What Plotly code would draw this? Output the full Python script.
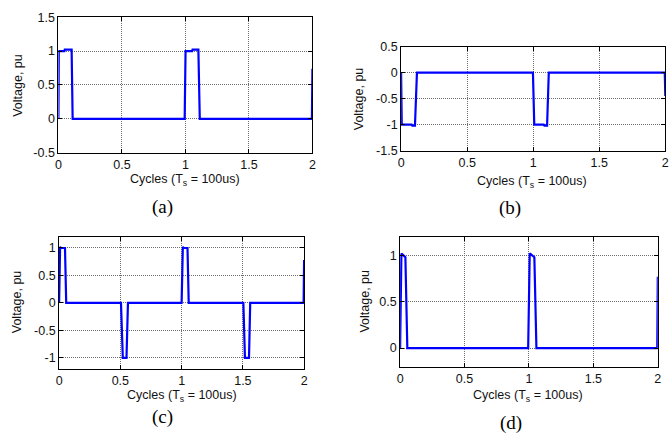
import plotly.graph_objects as go

# Output voltage waveforms over two switching cycles (Ts = 100 us)
cycles_a = [0, 0.003, 0.047, 0.05, 0.104, 0.112, 0.994, 1.001, 1.053, 1.056, 1.102, 1.113, 1.996, 2.0]
volts_a = [0, 1.0, 1.0, 1.02, 1.02, 0, 0, 1.0, 1.0, 1.02, 1.02, 0, 0, 0.74]

cycles_b = [0, 0.005, 0.08, 0.085, 0.105, 0.12, 0.998, 1.008, 1.08, 1.085, 1.105, 1.118, 1.996, 2.0]
volts_b = [0, -1.0, -1.0, -1.02, -1.02, 0, 0, -1.0, -1.0, -1.02, -1.02, 0, 0, -0.45]

cycles_c = [0, 0.008, 0.015, 0.048, 0.058, 0.505, 0.52, 0.55, 0.562, 1.0, 1.01, 1.018,
            1.048, 1.058, 1.504, 1.517, 1.55, 1.56, 1.996, 2.0]
volts_c = [0, 1.02, 1.0, 1.0, 0, 0, -1, -1, 0, 0, 1.02, 1.0, 1.0, 0, 0, -1, -1, 0, 0, 0.78]

cycles_d = [0, 0.01, 0.026, 0.041, 0.056, 0.994, 1.006, 1.024, 1.042, 1.058, 1.996, 2.0]
volts_d = [0, 1.02, 1.0, 0.98, 0, 0, 1.02, 1.0, 0.98, 0, 0, 0.77]

x_ticks = [0, 0.5, 1, 1.5, 2]
y_ticks_a = [-0.5, 0, 0.5, 1, 1.5]
y_ticks_b = [-1.5, -1, -0.5, 0, 0.5]
y_ticks_c = [-1, -0.5, 0, 0.5, 1]
y_ticks_d = [0, 0.5, 1]

panel_labels = ["(a)", "(b)", "(c)", "(d)"]
x_title = "Cycles (T<sub>s</sub> = 100us)"
y_title = "Voltage, pu"

W, H = 670, 443


def px_x(v):
    return v / W


def px_y(v):
    return 1 - v / H


# panel boxes in pixels: left, right, top, bottom
boxes = [
    (56, 312.7, 10.5, 150.5),
    (402.3, 669.3, 41, 148.3),
    (56.7, 304.3, 237.5, 373.7),
    (401.3, 661.7, 237.3, 371.3),
]
y_ranges = [[-0.5, 1.5], [-1.5, 0.5], [-1.2, 1.2], [-0.2, 1.2]]
y_ticks = [y_ticks_a, y_ticks_b, y_ticks_c, y_ticks_d]
series = [(cycles_a, volts_a), (cycles_b, volts_b), (cycles_c, volts_c), (cycles_d, volts_d)]

# title / caption centres in pixels
x_title_pos = [(184, 179), (535, 181), (181, 401.5), (531, 402)]
y_title_pos = [(15.5, 81), (360, 95), (15, 304), (366, 304)]
caption_pos = [(161, 207), (512, 208), (161, 423), (513, 430)]

sans = "Arial, Liberation Sans, sans-serif"
serif = "Times New Roman, Liberation Serif, serif"

fig = go.Figure()
tick_font = dict(family=sans, size=12.5, color="#111")

layout = dict(
    width=W, height=H, margin=dict(l=0, r=0, t=0, b=0),
    paper_bgcolor="white", plot_bgcolor="white", showlegend=False,
)

annotations = []
for i, ((xs, ys), (l, r, t, b)) in enumerate(zip(series, boxes)):
    n = "" if i == 0 else str(i + 1)
    fig.add_trace(go.Scatter(
        x=xs, y=ys, mode="lines", xaxis="x" + n, yaxis="y" + n,
        line=dict(color="#0000ff", width=2.2), hoverinfo="skip",
    ))
    common = dict(
        showline=True, linecolor="black", linewidth=1, mirror="ticks",
        ticks="inside", ticklen=4, tickcolor="black", tickwidth=1,
        showgrid=True, gridcolor="#6e6e6e", griddash="1px,1px", gridwidth=1,
        zeroline=False, tickfont=tick_font,
    )
    layout["xaxis" + n] = dict(
        common, domain=[px_x(l), px_x(r)], range=[0, 2], tickvals=x_ticks,
        ticktext=[f"{v:g}" for v in x_ticks], anchor="y" + n,
    )
    layout["yaxis" + n] = dict(
        common, domain=[px_y(b), px_y(t)], range=y_ranges[i], tickvals=y_ticks[i],
        ticktext=[f"{v:g}" for v in y_ticks[i]], anchor="x" + n,
    )
    xt = x_title_pos[i]
    annotations.append(dict(
        text=x_title, x=px_x(xt[0]), y=px_y(xt[1]), xref="paper", yref="paper",
        xanchor="center", yanchor="middle", showarrow=False,
        font=dict(family=sans, size=12.5, color="#111"),
    ))
    yt = y_title_pos[i]
    annotations.append(dict(
        text=y_title, x=px_x(yt[0]), y=px_y(yt[1]), xref="paper", yref="paper",
        xanchor="center", yanchor="middle", showarrow=False, textangle=-90,
        font=dict(family=sans, size=12.5, color="#111"),
    ))
    cp = caption_pos[i]
    annotations.append(dict(
        text=panel_labels[i], x=px_x(cp[0]), y=px_y(cp[1]), xref="paper", yref="paper",
        xanchor="center", yanchor="middle", showarrow=False,
        font=dict(family=serif, size=19, color="black"),
    ))

layout["annotations"] = annotations
fig.update_layout(**layout)
fig.write_html("out.html")
